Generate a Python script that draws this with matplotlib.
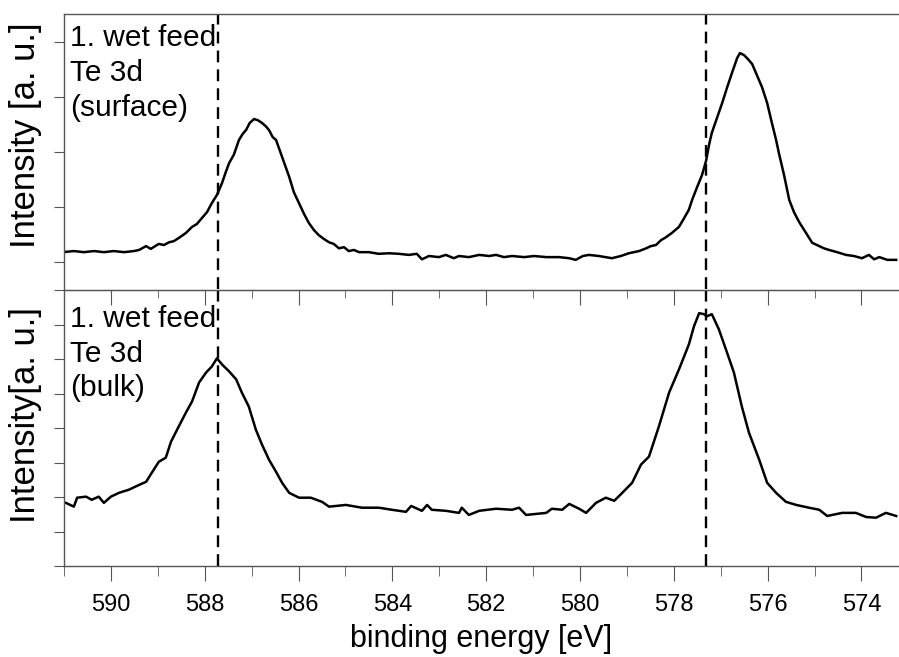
import matplotlib
matplotlib.use('Agg')
import matplotlib.pyplot as plt
from matplotlib.ticker import MultipleLocator, NullFormatter

# binding energy [eV] and intensity [a. u.]
be_surface = [591.02, 590.79, 590.58, 590.36, 590.15, 589.94, 589.72, 589.51, 589.40, 589.25,
              589.15, 588.98, 588.87, 588.76, 588.66, 588.55, 588.40, 588.27, 588.17, 588.06,
              587.95, 587.85, 587.74, 587.63, 587.55, 587.48, 587.38, 587.27, 587.19, 587.12,
              587.04, 586.95, 586.87, 586.78, 586.70, 586.63, 586.55, 586.48, 586.38, 586.29,
              586.20, 586.10, 585.99, 585.88, 585.78, 585.67, 585.57, 585.46, 585.35, 585.25,
              585.14, 585.03, 584.93, 584.82, 584.71, 584.50, 584.29, 584.07, 583.86, 583.65,
              583.48, 583.37, 583.22, 583.01, 582.86, 582.69, 582.58, 582.37, 582.15, 581.94,
              581.79, 581.62, 581.45, 581.19, 580.98, 580.72, 580.45, 580.23, 580.09, 579.94,
              579.81, 579.60, 579.32, 579.13, 578.96, 578.74, 578.59, 578.49, 578.38, 578.27,
              578.17, 578.04, 577.89, 577.78, 577.68, 577.61, 577.51, 577.40, 577.31, 577.25,
              577.19, 577.08, 576.97, 576.87, 576.76, 576.65, 576.59, 576.50, 576.42, 576.33,
              576.23, 576.12, 576.01, 575.91, 575.82, 575.76, 575.65, 575.54, 575.44, 575.33,
              575.22, 575.12, 575.05, 574.90, 574.80, 574.69, 574.52, 574.33, 574.16, 573.99,
              573.84, 573.73, 573.62, 573.45, 573.26]
int_surface = [0.18, 0.20, 0.18, 0.20, 0.18, 0.20, 0.18, 0.20, 0.22, 0.29,
               0.24, 0.33, 0.31, 0.36, 0.38, 0.44, 0.53, 0.64, 0.69, 0.80,
               0.91, 1.07, 1.22, 1.44, 1.64, 1.80, 1.95, 2.22, 2.33, 2.40,
               2.53, 2.60, 2.58, 2.53, 2.47, 2.40, 2.27, 2.22, 1.98, 1.76,
               1.55, 1.27, 1.07, 0.87, 0.71, 0.58, 0.49, 0.42, 0.36, 0.33,
               0.25, 0.27, 0.20, 0.22, 0.18, 0.18, 0.15, 0.16, 0.15, 0.13,
               0.15, 0.05, 0.11, 0.09, 0.13, 0.07, 0.11, 0.09, 0.13, 0.11,
               0.13, 0.09, 0.11, 0.09, 0.11, 0.09, 0.09, 0.07, 0.04, 0.11,
               0.13, 0.11, 0.07, 0.11, 0.16, 0.20, 0.25, 0.29, 0.31, 0.40,
               0.45, 0.53, 0.64, 0.80, 0.95, 1.13, 1.35, 1.58, 1.85, 2.13,
               2.35, 2.62, 2.89, 3.16, 3.44, 3.71, 3.80, 3.76, 3.69, 3.60,
               3.40, 3.18, 2.89, 2.53, 2.22, 1.98, 1.58, 1.13, 0.91, 0.73,
               0.58, 0.44, 0.35, 0.29, 0.25, 0.22, 0.18, 0.13, 0.11, 0.07,
               0.13, 0.05, 0.09, 0.04, 0.04]

be_bulk = [590.96, 590.79, 590.72, 590.53, 590.41, 590.26, 590.15, 590.00, 589.83, 589.62,
           589.40, 589.25, 589.13, 588.98, 588.83, 588.72, 588.59, 588.40, 588.27, 588.12,
           587.97, 587.85, 587.74, 587.63, 587.48, 587.33, 587.21, 587.06, 586.91, 586.78,
           586.63, 586.48, 586.35, 586.20, 585.99, 585.74, 585.50, 585.35, 584.99, 584.65,
           584.29, 584.01, 583.71, 583.60, 583.37, 583.26, 583.16, 582.86, 582.58, 582.52,
           582.37, 582.15, 581.79, 581.45, 581.30, 581.15, 580.72, 580.60, 580.38, 580.23,
           580.02, 579.87, 579.66, 579.45, 579.27, 579.10, 578.89, 578.70, 578.53, 578.32,
           578.10, 577.89, 577.68, 577.57, 577.46, 577.36, 577.29, 577.19, 577.04, 576.89,
           576.72, 576.55, 576.40, 576.18, 576.01, 575.82, 575.61, 575.39, 575.12, 574.90,
           574.73, 574.41, 574.12, 573.90, 573.69, 573.48, 573.26]
int_bulk = [1.83, 1.72, 1.98, 2.01, 1.92, 2.01, 1.83, 2.01, 2.12, 2.21,
            2.35, 2.44, 2.70, 3.02, 3.14, 3.60, 3.95, 4.45, 4.77, 5.32,
            5.61, 5.78, 6.02, 5.84, 5.64, 5.41, 5.03, 4.62, 3.95, 3.52,
            3.08, 2.73, 2.41, 2.12, 1.98, 1.98, 1.86, 1.72, 1.77, 1.69,
            1.69, 1.63, 1.57, 1.74, 1.60, 1.77, 1.63, 1.60, 1.54, 1.69,
            1.48, 1.60, 1.66, 1.63, 1.69, 1.48, 1.54, 1.66, 1.63, 1.80,
            1.66, 1.54, 1.83, 1.98, 1.89, 2.12, 2.41, 2.94, 3.17, 4.04,
            5.03, 5.70, 6.42, 6.95, 7.33, 7.30, 7.24, 7.30, 6.86, 6.28,
            5.61, 4.62, 3.87, 3.08, 2.41, 2.12, 1.86, 1.77, 1.69, 1.63,
            1.45, 1.54, 1.54, 1.42, 1.40, 1.54, 1.45]

ref_lines = [587.72, 577.31]

spine_col = '#555555'
plt.rcParams['font.family'] = ['Liberation Sans', 'DejaVu Sans']

fig = plt.figure(figsize=(8.99, 6.57), dpi=100)
ax1 = fig.add_axes([0.0712, 0.5601, 0.9288, 0.4186])
ax2 = fig.add_axes([0.0712, 0.1385, 0.9288, 0.4201])

ax1.plot(be_surface, int_surface, color='black', lw=1.8)
ax2.plot(be_bulk, int_bulk, color='black', lw=1.8)

for ax in (ax1, ax2):
    for e in ref_lines:
        ax.axvline(e, color='black', lw=1.7, dashes=(5, 3))
    ax.set_xlim(591, 573.2)
    for s in ax.spines.values():
        s.set_color(spine_col)
        s.set_linewidth(1.0)
    ax.spines['right'].set_visible(False)
    ax.tick_params(axis='y', direction='out', length=7, color=spine_col,
                   labelleft=False)

ax1.spines['bottom'].set_visible(False)
ax1.set_ylim(-0.49, 4.51)
ax1.set_yticks([0, 1, 2, 3, 4])
ax1.set_xticks([])

ax2.set_ylim(0, 8)
ax2.set_yticks(range(9))
ax2.xaxis.set_major_locator(MultipleLocator(2))
ax2.xaxis.set_minor_locator(MultipleLocator(1))
ax2.tick_params(axis='x', which='major', direction='out', length=11,
                color=spine_col, labelsize=17, pad=9)
ax2.tick_params(axis='x', which='minor', direction='out', length=7,
                color=spine_col)

# inward ticks along the top of the lower panel
top_ax = ax2.secondary_xaxis('top')
top_ax.xaxis.set_major_locator(MultipleLocator(2))
top_ax.xaxis.set_minor_locator(MultipleLocator(1))
top_ax.tick_params(axis='x', which='major', direction='in', length=11,
                   color=spine_col, labeltop=False)
top_ax.tick_params(axis='x', which='minor', direction='in', length=6,
                   color=spine_col)
top_ax.xaxis.set_major_formatter(NullFormatter())
top_ax.spines['top'].set_color(spine_col)

ax2.set_xlabel('binding energy [eV]', fontsize=22, labelpad=6)

ax1.set_ylabel('Intensity [a. u.]', fontsize=25)
ax1.yaxis.set_label_coords(-0.026, 0.56)
ax2.set_ylabel('Intensity[a. u.]', fontsize=25)
ax2.yaxis.set_label_coords(-0.026, 0.547)

ax1.text(0.007, 0.962, '1. wet feed\nTe 3d\n(surface)', transform=ax1.transAxes,
         ha='left', va='top', fontsize=21.5, linespacing=1.3)
ax2.text(0.007, 0.945, '1. wet feed\nTe 3d\n(bulk)', transform=ax2.transAxes,
         ha='left', va='top', fontsize=21.5, linespacing=1.3)

fig.savefig('out.png', dpi=100)
